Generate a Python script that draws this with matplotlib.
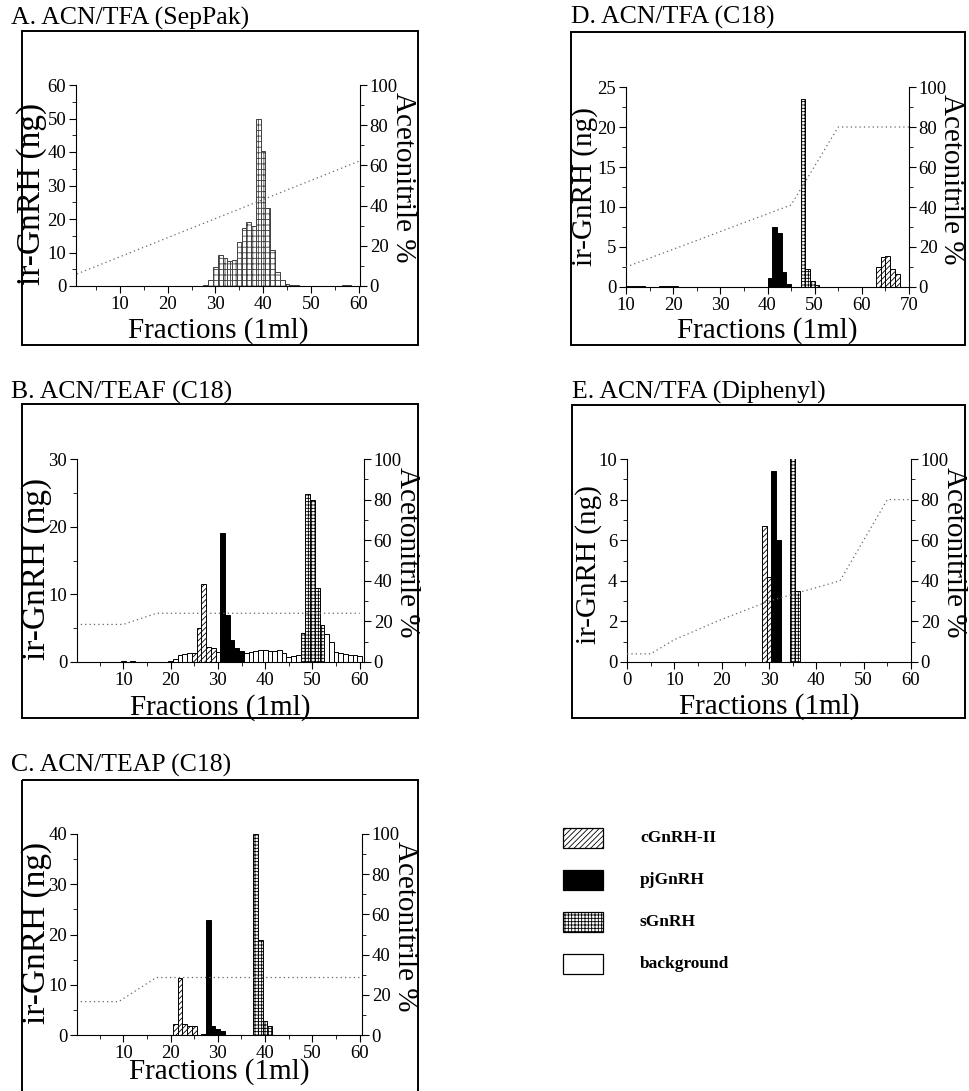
import matplotlib
matplotlib.use('Agg')
import matplotlib.pyplot as plt
from matplotlib.patches import Rectangle
from matplotlib.ticker import MultipleLocator

plt.rcParams['font.family'] = ['Liberation Serif', 'DejaVu Serif']
plt.rcParams['hatch.linewidth'] = 0.6

# ---- data (ir-GnRH ng per 1 ml fraction, acetonitrile % gradient) ----
# A. ACN/TFA (SepPak)
a_frac = [28, 29, 30, 31, 32, 33, 34, 35, 36, 37, 38, 39, 40, 41, 42, 43, 44, 45, 46, 47, 57, 58]
a_ng = [0.3, 1.8, 5.8, 9.2, 8.3, 7.4, 7.8, 13.1, 17.4, 19.1, 18.0, 50.0, 40.2, 23.2, 10.7, 4.3, 1.8, 0.6, 0.3, 0.3, 0.3, 0.3]
a_acn_x = [1, 60]
a_acn_y = [6, 62]

# B. ACN/TEAF (C18)
b_c_frac = [25, 26, 27, 28, 29]
b_c_ng = [1.4, 5.0, 11.5, 2.2, 2.0]
b_pj_frac = [31, 32, 33, 34, 35]
b_pj_ng = [19.0, 6.9, 3.2, 2.0, 1.6]
b_s_frac = [48, 49, 50, 51, 52]
b_s_ng = [4.3, 24.9, 24.0, 10.9, 5.4]
b_bg_frac = [10, 12, 20, 21, 22, 23, 24, 30, 36, 37, 38, 39, 40, 41, 42, 43, 44, 45, 46, 47,
             53, 54, 55, 56, 57, 58, 59, 60]
b_bg_ng = [0.15, 0.15, 0.2, 0.5, 1.1, 1.2, 1.3, 1.5, 1.3, 1.5, 1.6, 1.8, 1.7, 1.6, 1.6, 1.8, 1.3, 0.7, 0.9, 1.0,
           4.1, 3.0, 1.5, 1.3, 1.2, 1.0, 1.0, 0.9]
b_acn_x = [1, 10, 17, 60]
b_acn_y = [18.5, 18.5, 24, 24]

# C. ACN/TEAP (C18)
c_c_frac = [21, 22, 23, 24, 25]
c_c_ng = [2.1, 11.3, 2.2, 1.8, 1.7]
c_pj_frac = [27, 28, 29, 30, 31]
c_pj_ng = [0.2, 22.8, 1.8, 1.1, 0.8]
c_s_frac = [38, 39, 40, 41]
c_s_ng = [40.0, 19.0, 2.7, 1.7]
c_acn_x = [1, 9, 17, 60]
c_acn_y = [16.6, 16.6, 28.6, 28.6]

# D. ACN/TFA (C18)
d_pj_frac = [40, 41, 42, 43, 44]
d_pj_ng = [1.1, 7.5, 6.8, 1.9, 0.4]
d_s_frac = [47, 48, 49, 50]
d_s_ng = [23.5, 2.2, 0.7, 0.2]
d_c_frac = [63, 64, 65, 66, 67]
d_c_ng = [2.5, 3.7, 3.9, 2.2, 1.6]
d_bg_frac = [10, 11, 12, 13, 17, 18, 19, 20]
d_bg_ng = [0.1, 0.1, 0.1, 0.1, 0.1, 0.1, 0.1, 0.1]
d_acn_x = [10, 45, 55, 70]
d_acn_y = [10, 41, 80, 80]

# E. ACN/TFA (Diphenyl)
e_c_frac = [29, 30]
e_c_ng = [6.7, 4.2]
e_pj_frac = [31, 32]
e_pj_ng = [9.4, 6.0]
e_s_frac = [35, 36]
e_s_ng = [10.1, 3.5]
e_acn_x = [0, 5, 10, 20, 30, 45, 55, 60]
e_acn_y = [4, 4, 11, 21, 30, 40, 80, 80]

legend_names = ['cGnRH-II', 'pjGnRH', 'sGnRH', 'background']

styles = {
    'cGnRH-II': dict(facecolor='white', hatch='//////'),
    'pjGnRH': dict(facecolor='black'),
    'sGnRH': dict(facecolor='white', hatch='+++++'),
    'background': dict(facecolor='white'),
    'total': dict(facecolor='white', hatch='+++'),
}

W, H = 970, 1091
fig = plt.figure(figsize=(W / 100, H / 100), dpi=100)
canvas = fig.add_axes([0, 0, 1, 1], zorder=0)
canvas.set_xlim(0, W)
canvas.set_ylim(H, 0)
canvas.axis('off')


def panel(title, title_xy, frame, box, xlim, xticks, ylim, ymaj, ymin, series,
          acn_x, acn_y, ylab_xy, xlab_y, ylab_size, align='center'):
    fl, ft, fr, fb = frame
    canvas.add_patch(Rectangle((fl, ft), fr - fl, fb - ft, fill=False, lw=1.4, ec='black'))
    canvas.text(title_xy[0], title_xy[1], title, fontsize=18.5, ha='left', va='center')

    l, t, r, b = box
    ax = fig.add_axes([l / W, 1 - b / H, (r - l) / W, (b - t) / H], zorder=2)
    ax.set_facecolor('none')
    for name, x, y in series:
        ax.bar(x, y, width=1, align=align, lw=0.7, edgecolor='black' if name != 'total' else '0.25',
               **styles[name])
    ax.set_xlim(*xlim)
    ax.set_ylim(*ylim)
    ax.set_xticks(xticks)
    ax.xaxis.set_minor_locator(MultipleLocator(5))
    ax.yaxis.set_major_locator(MultipleLocator(ymaj))
    ax.yaxis.set_minor_locator(MultipleLocator(ymin))
    for s in ['top', 'right']:
        ax.spines[s].set_visible(False)
    ax.tick_params(which='major', direction='out', length=5, labelsize=13.5, pad=2)
    ax.tick_params(which='minor', direction='out', length=3)
    ax.set_ylabel('ir-GnRH (ng)', fontsize=ylab_size, va='center')
    ax.yaxis.set_label_coords(ylab_xy[0], ylab_xy[1])
    ax.set_xlabel('Fractions (1ml)', fontsize=21, va='center')
    ax.xaxis.set_label_coords(0.5, xlab_y)

    ax2 = ax.twinx()
    ax2.set_zorder(3)
    ax2.plot(acn_x, acn_y, linestyle=(0, (1, 2.5)), color='0.4', lw=0.9)
    ax2.set_ylim(0, 100)
    ax2.yaxis.set_major_locator(MultipleLocator(20))
    ax2.yaxis.set_minor_locator(MultipleLocator(10))
    for s in ['top', 'left', 'bottom']:
        ax2.spines[s].set_visible(False)
    ax2.tick_params(which='major', direction='out', length=5, labelsize=13.5, pad=2)
    ax2.tick_params(which='minor', direction='out', length=3)
    ax2.set_ylabel('Acetonitrile %', fontsize=21, rotation=270, va='center')
    ax2.yaxis.set_label_coords(1.15, 0.54)
    return ax


panel('A. ACN/TFA (SepPak)', (11, 18), (22, 31, 418, 345), (76, 85, 360, 286),
      (0.8, 60.3), [10, 20, 30, 40, 50, 60], (0, 60), 10, 5,
      [('total', a_frac, a_ng)], a_acn_x, a_acn_y, (-0.155, 0.46), -0.224, 24)

panel('B. ACN/TEAF (C18)', (11, 392), (22, 404, 418, 718), (77, 459, 364, 662),
      (0.2, 60.9), [10, 20, 30, 40, 50, 60], (0, 30), 10, 5,
      [('background', b_bg_frac, b_bg_ng), ('cGnRH-II', b_c_frac, b_c_ng),
       ('pjGnRH', b_pj_frac, b_pj_ng), ('sGnRH', b_s_frac, b_s_ng)],
      b_acn_x, b_acn_y, (-0.14, 0.46), -0.222, 24)

panel('C. ACN/TEAP (C18)', (11, 765), (22, 780, 418, 1096), (77, 834, 362, 1035),
      (0.2, 60.5), [10, 20, 30, 40, 50, 60], (0, 40), 10, 5,
      [('cGnRH-II', c_c_frac, c_c_ng), ('pjGnRH', c_pj_frac, c_pj_ng),
       ('sGnRH', c_s_frac, c_s_ng)],
      c_acn_x, c_acn_y, (-0.14, 0.51), -0.182, 24)

panel('D. ACN/TFA (C18)', (571, 17), (571, 32, 965, 345), (626, 87, 909, 287),
      (10, 70), [10, 20, 30, 40, 50, 60, 70], (0, 25), 5, 2.5,
      [('background', d_bg_frac, d_bg_ng), ('pjGnRH', d_pj_frac, d_pj_ng),
       ('sGnRH', d_s_frac, d_s_ng), ('cGnRH-II', d_c_frac, d_c_ng)],
      d_acn_x, d_acn_y, (-0.145, 0.5), -0.22, 21, align='edge')

panel('E. ACN/TFA (Diphenyl)', (572, 392), (572, 405, 965, 718), (627, 459, 911, 662),
      (0, 60), [0, 10, 20, 30, 40, 50, 60], (0, 10), 2, 1,
      [('cGnRH-II', e_c_frac, e_c_ng), ('pjGnRH', e_pj_frac, e_pj_ng),
       ('sGnRH', e_s_frac, e_s_ng)],
      e_acn_x, e_acn_y, (-0.135, 0.48), -0.22, 21)

# legend
for i, name in enumerate(legend_names):
    top = 828 + i * 42
    canvas.add_patch(Rectangle((563, top), 40, 20, lw=0.9, edgecolor='black', **styles[name]))
    canvas.text(640, top + 10, name, fontsize=12.5, fontweight='bold', ha='left', va='center')

fig.savefig('out.png', dpi=100)
